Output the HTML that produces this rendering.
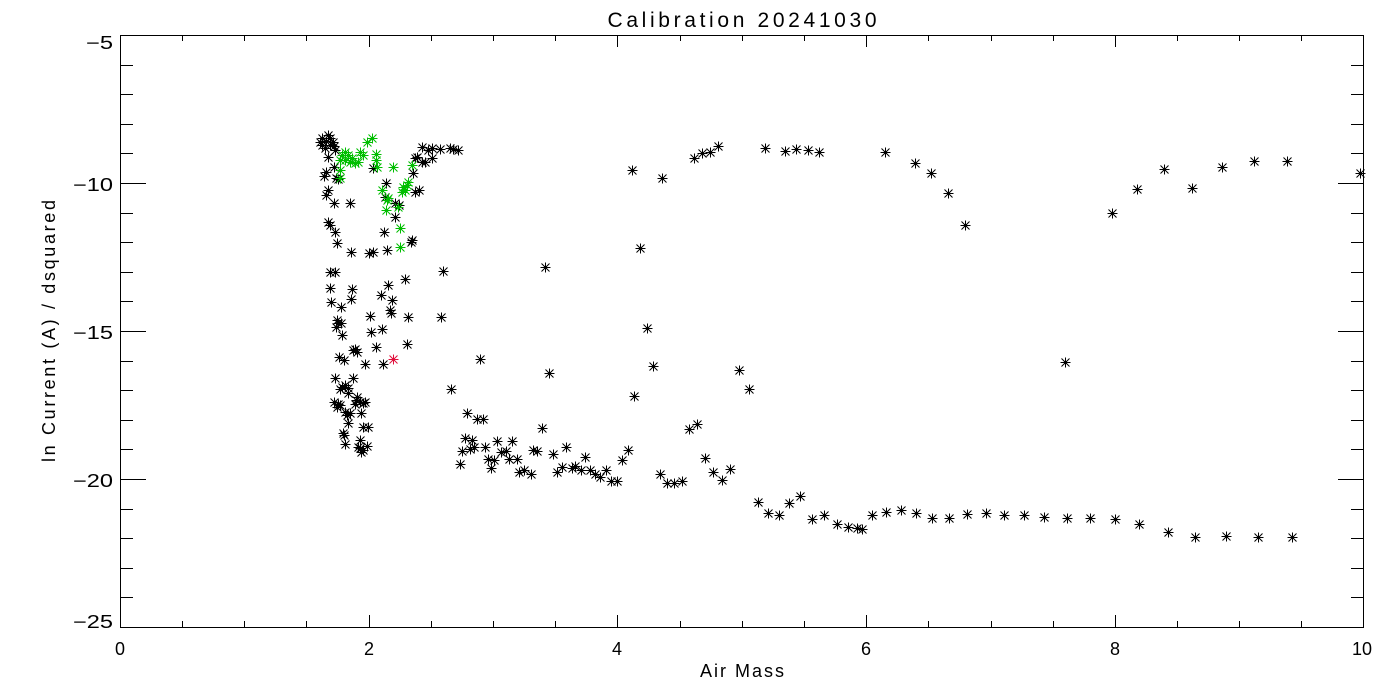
<!DOCTYPE html>
<html><head><meta charset="utf-8"><style>
html,body{margin:0;padding:0;background:#fff;}
svg{display:block;}
text{font-family:"Liberation Sans",sans-serif;fill:#000;}
</style></head><body>
<svg width="1400" height="700" viewBox="0 0 1400 700" xmlns="http://www.w3.org/2000/svg">
<defs>
<g id="s"><path d="M-5 0H5M0 -5V5M-4 -4L4 4M-4 4L4 -4" stroke="currentColor" stroke-width="1" fill="none"/><circle r="1.6" fill="currentColor"/></g>
</defs>
<rect width="1400" height="700" fill="#fff"/>
<text x="742" y="27" font-size="21" text-anchor="middle" textLength="269" lengthAdjust="spacing">Calibration 20241030</text>
<text x="742" y="677" font-size="18" text-anchor="middle" textLength="84" lengthAdjust="spacing">Air Mass</text>
<text transform="translate(55,331) rotate(-90)" font-size="18" text-anchor="middle" textLength="262" lengthAdjust="spacing">ln Current (A) / dsquared</text>
<g font-size="18">
<text x="86" y="49" textLength="27" lengthAdjust="spacingAndGlyphs">−5</text>
<text x="73" y="191" textLength="40" lengthAdjust="spacingAndGlyphs">−10</text>
<text x="73" y="339" textLength="40" lengthAdjust="spacingAndGlyphs">−15</text>
<text x="73" y="487" textLength="40" lengthAdjust="spacingAndGlyphs">−20</text>
<text x="73" y="628" textLength="40" lengthAdjust="spacingAndGlyphs">−25</text>
</g>
<g font-size="18" text-anchor="middle">
<text x="120" y="655">0</text>
<text x="369" y="655">2</text>
<text x="617" y="655">4</text>
<text x="866" y="655">6</text>
<text x="1115" y="655">8</text>
<text x="1362" y="655">10</text>
</g>
<g stroke="#000" stroke-width="1" fill="none" shape-rendering="crispEdges">
<rect x="120.5" y="35.5" width="1243" height="592"/>
</g>
<g stroke="#000" stroke-width="1" shape-rendering="crispEdges">
<path d="
M182.5 627V621M182.5 35V41
M244.5 627V621M244.5 35V41
M306.5 627V621M306.5 35V41
M369.5 627V615M369.5 35V47
M431.5 627V621M431.5 35V41
M493.5 627V621M493.5 35V41
M555.5 627V621M555.5 35V41
M617.5 627V615M617.5 35V47
M680.5 627V621M680.5 35V41
M742.5 627V621M742.5 35V41
M804.5 627V621M804.5 35V41
M866.5 627V615M866.5 35V47
M928.5 627V621M928.5 35V41
M991.5 627V621M991.5 35V41
M1053.5 627V621M1053.5 35V41
M1115.5 627V615M1115.5 35V47
M1177.5 627V621M1177.5 35V41
M1239.5 627V621M1239.5 35V41
M1301.5 627V621M1301.5 35V41
"/>
<path d="
M120 65.5H133M1364 65.5H1351
M120 94.5H133M1364 94.5H1351
M120 124.5H133M1364 124.5H1351
M120 153.5H133M1364 153.5H1351
M120 183.5H146M1364 183.5H1338
M120 213.5H133M1364 213.5H1351
M120 242.5H133M1364 242.5H1351
M120 272.5H133M1364 272.5H1351
M120 301.5H133M1364 301.5H1351
M120 331.5H146M1364 331.5H1338
M120 361.5H133M1364 361.5H1351
M120 390.5H133M1364 390.5H1351
M120 420.5H133M1364 420.5H1351
M120 449.5H133M1364 449.5H1351
M120 479.5H146M1364 479.5H1338
M120 509.5H133M1364 509.5H1351
M120 538.5H133M1364 538.5H1351
M120 568.5H133M1364 568.5H1351
M120 597.5H133M1364 597.5H1351
"/>
</g>
<g color="#000">
<use href="#s" x="322.5" y="138.5"/><use href="#s" x="330.5" y="138.5"/><use href="#s" x="322.5" y="145.5"/><use href="#s" x="330.5" y="145.5"/><use href="#s" x="326.5" y="141.5"/><use href="#s" x="325.5" y="148.5"/><use href="#s" x="333.5" y="142.5"/><use href="#s" x="320.5" y="142.5"/><use href="#s" x="328.5" y="135.5"/><use href="#s" x="334.5" y="146.5"/>
<use href="#s" x="328.5" y="157.5"/><use href="#s" x="335.5" y="150.5"/><use href="#s" x="334.5" y="167.5"/><use href="#s" x="326.5" y="172.5"/><use href="#s" x="324.5" y="176.5"/><use href="#s" x="338.5" y="179.5"/><use href="#s" x="336.5" y="178.5"/><use href="#s" x="328.5" y="190.5"/><use href="#s" x="326.5" y="195.5"/><use href="#s" x="334.5" y="203.5"/><use href="#s" x="350.5" y="203.5"/><use href="#s" x="373.5" y="168.5"/><use href="#s" x="386.5" y="183.5"/><use href="#s" x="385.5" y="197.5"/><use href="#s" x="395.5" y="203.5"/><use href="#s" x="413.5" y="173.5"/><use href="#s" x="415.5" y="158.5"/><use href="#s" x="399.5" y="205.5"/><use href="#s" x="395.5" y="217.5"/><use href="#s" x="415.5" y="192.5"/><use href="#s" x="419.5" y="190.5"/><use href="#s" x="422.5" y="147.5"/><use href="#s" x="432.5" y="148.5"/><use href="#s" x="428.5" y="150.5"/><use href="#s" x="440.5" y="149.5"/><use href="#s" x="450.5" y="148.5"/><use href="#s" x="453.5" y="149.5"/><use href="#s" x="458.5" y="150.5"/><use href="#s" x="417.5" y="157.5"/><use href="#s" x="422.5" y="162.5"/><use href="#s" x="425.5" y="162.5"/><use href="#s" x="432.5" y="158.5"/><use href="#s" x="328.5" y="222.5"/><use href="#s" x="330.5" y="225.5"/><use href="#s" x="335.5" y="232.5"/><use href="#s" x="337.5" y="243.5"/><use href="#s" x="351.5" y="252.5"/><use href="#s" x="369.5" y="253.5"/><use href="#s" x="373.5" y="252.5"/><use href="#s" x="387.5" y="250.5"/><use href="#s" x="384.5" y="232.5"/><use href="#s" x="411.5" y="242.5"/><use href="#s" x="412.5" y="240.5"/>
<use href="#s" x="330.5" y="272.5"/><use href="#s" x="335.5" y="272.5"/><use href="#s" x="443.5" y="271.5"/><use href="#s" x="405.5" y="279.5"/><use href="#s" x="388.5" y="285.5"/><use href="#s" x="330.5" y="288.5"/><use href="#s" x="352.5" y="289.5"/><use href="#s" x="381.5" y="295.5"/><use href="#s" x="351.5" y="299.5"/><use href="#s" x="392.5" y="300.5"/><use href="#s" x="331.5" y="302.5"/><use href="#s" x="341.5" y="307.5"/><use href="#s" x="390.5" y="310.5"/><use href="#s" x="391.5" y="313.5"/><use href="#s" x="370.5" y="316.5"/><use href="#s" x="408.5" y="317.5"/><use href="#s" x="441.5" y="317.5"/><use href="#s" x="337.5" y="320.5"/><use href="#s" x="338.5" y="323.5"/><use href="#s" x="336.5" y="327.5"/><use href="#s" x="341.5" y="323.5"/><use href="#s" x="342.5" y="335.5"/><use href="#s" x="371.5" y="332.5"/><use href="#s" x="382.5" y="329.5"/><use href="#s" x="355.5" y="349.5"/><use href="#s" x="357.5" y="352.5"/><use href="#s" x="353.5" y="350.5"/><use href="#s" x="376.5" y="347.5"/><use href="#s" x="407.5" y="344.5"/><use href="#s" x="339.5" y="357.5"/><use href="#s" x="344.5" y="360.5"/><use href="#s" x="365.5" y="364.5"/><use href="#s" x="383.5" y="364.5"/><use href="#s" x="480.5" y="359.5"/><use href="#s" x="335.5" y="378.5"/><use href="#s" x="353.5" y="378.5"/><use href="#s" x="342.5" y="387.5"/><use href="#s" x="345.5" y="385.5"/><use href="#s" x="348.5" y="388.5"/><use href="#s" x="340.5" y="389.5"/><use href="#s" x="348.5" y="393.5"/><use href="#s" x="357.5" y="397.5"/><use href="#s" x="356.5" y="400.5"/><use href="#s" x="360.5" y="402.5"/><use href="#s" x="355.5" y="404.5"/><use href="#s" x="365.5" y="402.5"/><use href="#s" x="363.5" y="403.5"/><use href="#s" x="334.5" y="402.5"/><use href="#s" x="338.5" y="404.5"/><use href="#s" x="337.5" y="407.5"/><use href="#s" x="340.5" y="405.5"/><use href="#s" x="451.5" y="389.5"/><use href="#s" x="345.5" y="412.5"/><use href="#s" x="347.5" y="415.5"/><use href="#s" x="350.5" y="413.5"/><use href="#s" x="361.5" y="413.5"/><use href="#s" x="348.5" y="423.5"/><use href="#s" x="363.5" y="427.5"/><use href="#s" x="368.5" y="427.5"/><use href="#s" x="343.5" y="433.5"/><use href="#s" x="344.5" y="435.5"/><use href="#s" x="345.5" y="444.5"/><use href="#s" x="360.5" y="440.5"/><use href="#s" x="360.5" y="448.5"/><use href="#s" x="363.5" y="450.5"/><use href="#s" x="367.5" y="446.5"/><use href="#s" x="358.5" y="447.5"/><use href="#s" x="361.5" y="452.5"/>
<use href="#s" x="640.5" y="248.5"/><use href="#s" x="545.5" y="267.5"/><use href="#s" x="647.5" y="328.5"/><use href="#s" x="653.5" y="366.5"/><use href="#s" x="549.5" y="373.5"/><use href="#s" x="634.5" y="396.5"/><use href="#s" x="467.5" y="413.5"/><use href="#s" x="477.5" y="419.5"/><use href="#s" x="483.5" y="419.5"/><use href="#s" x="542.5" y="428.5"/><use href="#s" x="689.5" y="429.5"/><use href="#s" x="697.5" y="424.5"/><use href="#s" x="465.5" y="438.5"/><use href="#s" x="472.5" y="440.5"/><use href="#s" x="462.5" y="451.5"/><use href="#s" x="470.5" y="449.5"/><use href="#s" x="474.5" y="447.5"/><use href="#s" x="485.5" y="447.5"/><use href="#s" x="497.5" y="441.5"/><use href="#s" x="512.5" y="441.5"/><use href="#s" x="501.5" y="452.5"/><use href="#s" x="506.5" y="451.5"/><use href="#s" x="488.5" y="459.5"/><use href="#s" x="494.5" y="460.5"/><use href="#s" x="509.5" y="459.5"/><use href="#s" x="517.5" y="459.5"/><use href="#s" x="460.5" y="464.5"/><use href="#s" x="491.5" y="468.5"/><use href="#s" x="533.5" y="450.5"/><use href="#s" x="537.5" y="451.5"/><use href="#s" x="553.5" y="454.5"/><use href="#s" x="566.5" y="447.5"/><use href="#s" x="585.5" y="457.5"/><use href="#s" x="519.5" y="472.5"/><use href="#s" x="524.5" y="470.5"/><use href="#s" x="531.5" y="474.5"/><use href="#s" x="557.5" y="472.5"/><use href="#s" x="562.5" y="467.5"/><use href="#s" x="572.5" y="468.5"/><use href="#s" x="575.5" y="466.5"/><use href="#s" x="581.5" y="470.5"/><use href="#s" x="590.5" y="470.5"/><use href="#s" x="595.5" y="474.5"/><use href="#s" x="600.5" y="477.5"/><use href="#s" x="606.5" y="470.5"/><use href="#s" x="611.5" y="481.5"/><use href="#s" x="617.5" y="481.5"/><use href="#s" x="622.5" y="460.5"/><use href="#s" x="628.5" y="450.5"/><use href="#s" x="660.5" y="474.5"/><use href="#s" x="667.5" y="483.5"/><use href="#s" x="674.5" y="483.5"/><use href="#s" x="682.5" y="481.5"/>
<use href="#s" x="632.5" y="170.5"/><use href="#s" x="662.5" y="178.5"/><use href="#s" x="694.5" y="158.5"/><use href="#s" x="702.5" y="153.5"/><use href="#s" x="710.5" y="152.5"/><use href="#s" x="718.5" y="146.5"/><use href="#s" x="765.5" y="148.5"/><use href="#s" x="785.5" y="151.5"/><use href="#s" x="796.5" y="149.5"/><use href="#s" x="808.5" y="150.5"/><use href="#s" x="819.5" y="152.5"/><use href="#s" x="739.5" y="370.5"/><use href="#s" x="749.5" y="389.5"/><use href="#s" x="705.5" y="458.5"/><use href="#s" x="713.5" y="472.5"/><use href="#s" x="722.5" y="480.5"/><use href="#s" x="730.5" y="469.5"/>
<use href="#s" x="758.5" y="502.5"/><use href="#s" x="768.5" y="513.5"/><use href="#s" x="779.5" y="515.5"/><use href="#s" x="789.5" y="503.5"/><use href="#s" x="800.5" y="496.5"/><use href="#s" x="812.5" y="519.5"/><use href="#s" x="824.5" y="515.5"/><use href="#s" x="837.5" y="524.5"/><use href="#s" x="848.5" y="527.5"/><use href="#s" x="857.5" y="528.5"/><use href="#s" x="862.5" y="529.5"/><use href="#s" x="872.5" y="515.5"/><use href="#s" x="886.5" y="512.5"/><use href="#s" x="901.5" y="510.5"/><use href="#s" x="916.5" y="513.5"/><use href="#s" x="932.5" y="518.5"/><use href="#s" x="949.5" y="518.5"/><use href="#s" x="967.5" y="514.5"/><use href="#s" x="986.5" y="513.5"/><use href="#s" x="1004.5" y="515.5"/><use href="#s" x="1024.5" y="515.5"/><use href="#s" x="1044.5" y="517.5"/><use href="#s" x="1067.5" y="518.5"/><use href="#s" x="1090.5" y="518.5"/><use href="#s" x="1115.5" y="519.5"/><use href="#s" x="1139.5" y="524.5"/><use href="#s" x="1168.5" y="532.5"/><use href="#s" x="1195.5" y="537.5"/><use href="#s" x="1226.5" y="536.5"/><use href="#s" x="1258.5" y="537.5"/><use href="#s" x="1292.5" y="537.5"/>
<use href="#s" x="885.5" y="152.5"/><use href="#s" x="915.5" y="163.5"/><use href="#s" x="931.5" y="173.5"/><use href="#s" x="948.5" y="193.5"/><use href="#s" x="965.5" y="225.5"/><use href="#s" x="1065.5" y="362.5"/><use href="#s" x="1112.5" y="213.5"/><use href="#s" x="1137.5" y="189.5"/><use href="#s" x="1164.5" y="169.5"/><use href="#s" x="1192.5" y="188.5"/><use href="#s" x="1222.5" y="167.5"/><use href="#s" x="1254.5" y="161.5"/><use href="#s" x="1287.5" y="161.5"/><use href="#s" x="1360.5" y="173.5"/>
</g>
<g color="#00be00">
<use href="#s" x="367.5" y="142.5"/><use href="#s" x="372.5" y="138.5"/><use href="#s" x="345.5" y="152.5"/><use href="#s" x="342.5" y="155.5"/><use href="#s" x="348.5" y="155.5"/><use href="#s" x="360.5" y="152.5"/><use href="#s" x="363.5" y="155.5"/><use href="#s" x="340.5" y="160.5"/><use href="#s" x="345.5" y="160.5"/><use href="#s" x="350.5" y="162.5"/><use href="#s" x="355.5" y="163.5"/><use href="#s" x="358.5" y="162.5"/><use href="#s" x="352.5" y="158.5"/><use href="#s" x="376.5" y="154.5"/><use href="#s" x="376.5" y="160.5"/><use href="#s" x="377.5" y="167.5"/><use href="#s" x="340.5" y="170.5"/><use href="#s" x="340.5" y="178.5"/><use href="#s" x="393.5" y="167.5"/><use href="#s" x="412.5" y="165.5"/><use href="#s" x="382.5" y="190.5"/><use href="#s" x="388.5" y="198.5"/><use href="#s" x="387.5" y="200.5"/><use href="#s" x="403.5" y="187.5"/><use href="#s" x="405.5" y="190.5"/><use href="#s" x="402.5" y="192.5"/><use href="#s" x="407.5" y="185.5"/><use href="#s" x="408.5" y="182.5"/><use href="#s" x="386.5" y="210.5"/><use href="#s" x="398.5" y="207.5"/><use href="#s" x="400.5" y="228.5"/><use href="#s" x="400.5" y="247.5"/>
</g>
<g color="#e0103c">
<use href="#s" x="393.5" y="359.5"/>
</g>
</svg>
</body></html>
